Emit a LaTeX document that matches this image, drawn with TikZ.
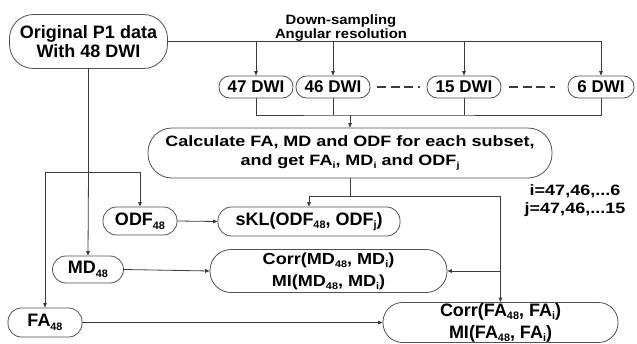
\documentclass[tikz,border=0pt]{standalone}
\usepackage{fontspec}
\usepackage{graphicx}
\setmainfont{Liberation Sans}
\newfontfamily\wfont{Liberation Sans}[FakeStretch=1.2]
\newfontfamily\mfont{Liberation Sans}[FakeStretch=1.13]
\newfontfamily\dfont{Liberation Sans}[FakeStretch=1.1]
\usetikzlibrary{arrows.meta}
\newcommand{\lo}[1]{\raisebox{-0.2em}{\scalebox{0.6}{#1}}}
\definecolor{ln}{HTML}{3C3C3C}
\definecolor{bd}{HTML}{505050}
\tikzset{
  box/.style={draw=bd, line width=0.8pt, inner sep=0pt, align=center, text=black},
  conn/.style={draw=ln, line width=0.8pt},
  arr/.style={conn, -{Triangle[length=4.5pt,width=3.6pt]}},
  dots/.style={draw=ln, line width=2pt, dash pattern=on 9pt off 4.5pt},
  txt/.style={inner sep=0pt, align=center, text=black}
}
\begin{document}
\begin{tikzpicture}[x=1pt,y=-1pt]
\useasboundingbox (0,0) rectangle (637,343);
% boxes
\node[box, minimum width=158pt, minimum height=54pt, rounded corners=24pt,
  font=\bfseries\fontsize{18}{19.5}\selectfont] (orig) at (88.5,41.5) {Original P1 data\\With 48 DWI};
\node[txt, font=\dfont\bfseries\fontsize{13.5}{12.6}\selectfont] (ds) at (341,28.3) {Down-sampling\\Angular resolution};
\tikzset{dwi/.style={box, minimum width=74pt, minimum height=22pt, rounded corners=10.5pt, font=\bfseries\fontsize{17}{18}\selectfont}}
\node[dwi] (d47) at (256,87) {47 DWI};
\node[dwi] (d46) at (333,87) {46 DWI};
\node[dwi] (d15) at (464,87) {15 DWI};
\node[dwi, minimum width=66pt] (d6) at (601,87) {6 DWI};
\node[box, minimum width=404pt, minimum height=50pt, rounded corners=24pt,
  font=\wfont\bfseries\fontsize{15}{19}\selectfont] (calc) at (350,153)
  {Calculate FA, MD and ODF for each subset,\\and get FA\lo{i}, MD\lo{i} and ODF\lo{j}};
\node[txt, font=\wfont\bfseries\fontsize{15}{18}\selectfont] (ij) at (575,201) {i=47,46,...6\\j=47,46,...15};
\tikzset{small/.style={box, minimum height=28pt, rounded corners=13.5pt, font=\bfseries\fontsize{18}{19}\selectfont}}
\node[small, minimum width=74pt] (odf) at (140,221) {ODF\lo{48}};
\node[small, minimum width=182pt, minimum height=29pt] (skl) at (309,221.5) {sKL(ODF\lo{48}, ODF\lo{j})};
\node[small, minimum width=71pt, minimum height=27pt] (md) at (88,269.5) {MD\lo{48}};
\node[box, minimum width=237pt, minimum height=43pt, rounded corners=21pt,
  font=\mfont\bfseries\fontsize{16}{22}\selectfont] (cmd) at (328.5,271)
  {Corr(MD\lo{48}, MD\lo{i})\\MI(MD\lo{48}, MD\lo{i})};
\node[small, minimum width=74pt, minimum height=29pt] (fa) at (45,322.5) {FA\lo{48}};
\node[box, minimum width=235pt, minimum height=40pt, rounded corners=19.5pt,
  font=\bfseries\fontsize{18}{22}\selectfont] (cfa) at (500.5,322.5)
  {Corr(FA\lo{48}, FA\lo{i})\\MI(FA\lo{48}, FA\lo{i})};
% coordinates
\coordinate (bus) at (350,115);
\coordinate (sp) at (350,196);
\coordinate (sp2) at (88.5,172);
% top distribution
\draw[arr] (orig.east) -| (d6.north);
\draw[arr] (d47.north |- orig.east) -- (d47.north);
\draw[arr] (d46.north |- orig.east) -- (d46.north);
\draw[arr] (d15.north |- orig.east) -- (d15.north);
% dashes
\draw[dots, shorten <=7pt, shorten >=7pt] (d46.east) -- (d15.west);
\draw[dots, shorten <=8pt, shorten >=13pt] (d15.east) -- (d6.west);
% collect
\draw[conn] (d47.south) |- (bus) -| (d6.south);
\draw[conn] (d46.south) -- (d46.south |- bus);
\draw[conn] (d15.south) -- (d15.south |- bus);
\draw[arr] (bus) -- (calc.north);
% below calc
\draw[conn] (calc.south) -- (sp);
\draw[arr] (sp) -| (skl.north);
\draw[arr] (sp) -| (cfa.north);
\draw[arr] (cfa.north |- cmd.east) -- (cmd.east);
% left side
\draw[conn] (orig.south) -- (sp2);
\draw[arr] (sp2) -- (md.north);
\draw[arr] (sp2) -| (odf.north);
\draw[arr] (sp2) -| (fa.north);
% horizontal
\draw[arr] (odf.east) -- (skl.west);
\draw[arr] (md.east) -- (cmd.west);
\draw[arr] (fa.east) -- (cfa.west);
\end{tikzpicture}
\end{document}
